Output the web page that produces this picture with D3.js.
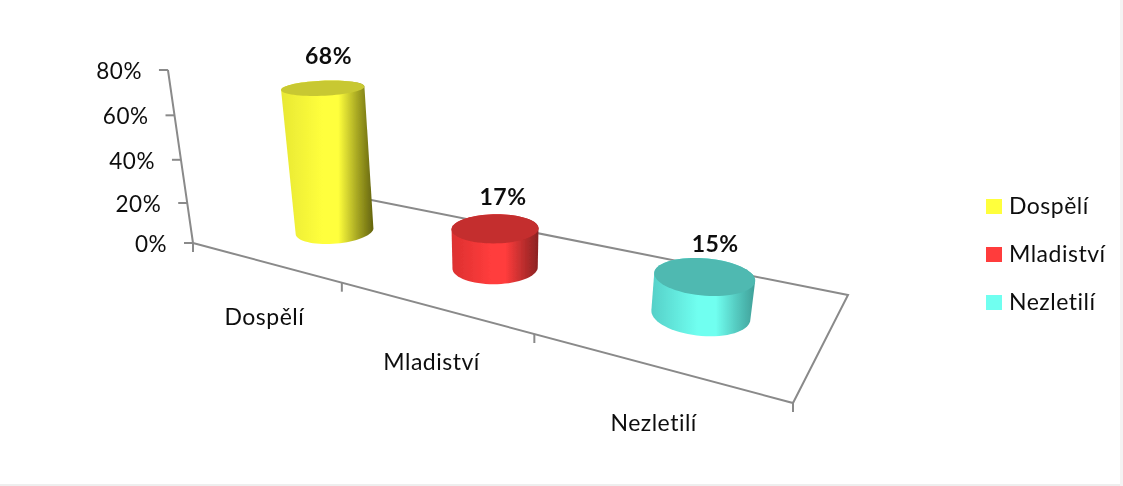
<!DOCTYPE html>
<html><head><meta charset="utf-8">
<script src="https://cdn.jsdelivr.net/npm/d3@7/dist/d3.min.js"></script>
<style>html,body{margin:0;background:#fff}svg{display:block}text{font-family:Lato,"Noto Sans",sans-serif;fill:#111}</style>
</head><body><svg id="c" width="1123" height="486"></svg>
<script>
const categories = ["Dospělí","Mladiství","Nezletilí"];
const values = [68,17,15];
const yTicks = [0,20,40,60,80];
const seriesColors = ["#ffff3c","#ff3c3c","#70fff0"];
const topColors = ["#c8c832","#c42e2e","#4fb9b1"];
const darkColors = ["#63630e","#8a2222","#3f9f98"];
const sideColors = ["#e8e834","#dc3030","#55d0c8"];

const svg = d3.select("#c");
const axisColor = "#8a8a8a";
const Q = [[193,243],[793,403],[848,295],[331,192]];
function homography(q){
  const [[x0,y0],[x1,y1],[x2,y2],[x3,y3]] = q;
  const dx1=x1-x2,dx2=x3-x2,sx=x0-x1+x2-x3,dy1=y1-y2,dy2=y3-y2,sy=y0-y1+y2-y3;
  const den=dx1*dy2-dx2*dy1;
  const g=(sx*dy2-dx2*sy)/den,h=(dx1*sy-sx*dy1)/den;
  const a=x1-x0+g*x1,b=x3-x0+h*x3,d=y1-y0+g*y1,e=y3-y0+h*y3;
  return (u,v)=>{const w=g*u+h*v+1;return {x:(a*u+b*v+x0)/w,y:(d*u+e*v+y0)/w,w};};
}
const H = homography(Q);
const xPos = d3.scalePoint().domain(categories).range([0.165,0.835]);
const yH = d3.scalePow().exponent(1.056).domain([0,80]).range([0,173]);
const yCyl = d3.scaleLinear().domain([0,80]).range([0,173]);
const w0 = H(0,0).w;
const vanishX = 500;

const defs = svg.append("defs");
const blur = defs.append("filter").attr("id","soft").attr("x","-5%").attr("y","-5%").attr("width","110%").attr("height","110%");
blur.append("feGaussianBlur").attr("stdDeviation",0.5);
defs.append("filter").attr("id","soft2").attr("filterUnits","userSpaceOnUse").attr("x",0).attr("y",0).attr("width",1123).attr("height",486)
  .append("feGaussianBlur").attr("stdDeviation",0.35);
categories.forEach((c,i)=>{
  const g = defs.append("linearGradient").attr("id","g"+i);
  [[0,sideColors[i]],[0.45,seriesColors[i]],[0.62,seriesColors[i]],[0.82,d3.interpolateRgb(seriesColors[i],darkColors[i])(0.55)],[1,darkColors[i]]]
    .forEach(([o,col])=>g.append("stop").attr("offset",o).attr("stop-color",col));
});

svg.append("rect").attr("x",0).attr("y",484).attr("width",1123).attr("height",2).attr("fill","#eeeeee");
svg.append("rect").attr("x",1120).attr("y",0).attr("width",3).attr("height",486).attr("fill","#f4f4f4");

const floor = svg.append("g").attr("fill","none").attr("stroke",axisColor).attr("stroke-width",2).attr("filter","url(#soft2)");
floor.append("path").attr("d",d3.line()(Q));
const O = H(0,0);
const axisPt = t => { const h=yH(t); return [O.x+(O.x-vanishX)*h/2120, O.y-h]; };
floor.append("path").attr("d",d3.line()(yTicks.map(axisPt)));
const labels = svg.append("g").attr("filter","url(#soft2)").attr("letter-spacing",0.5);
yTicks.forEach(t=>{
  const [x,y]=axisPt(t);
  floor.append("line").attr("x1",x-9).attr("x2",x).attr("y1",y).attr("y2",y);
  labels.append("text").attr("x",x-26).attr("y",y+9).attr("text-anchor","end").attr("font-size",22.5).text(t+"%");
});
const edge = [0,1,2,3].map(k=>H(k/3,0));
edge.forEach(p=>floor.append("line").attr("x1",p.x).attr("x2",p.x).attr("y1",p.y).attr("y2",p.y+9));
categories.forEach((c,i)=>{
  const a=edge[i],b=edge[i+1];
  labels.append("text").attr("x",(a.x+b.x)/2-3-3.5*i).attr("y",(a.y+b.y)/2+62).attr("text-anchor","middle").attr("font-size",23).text(c);
});

const cyl = svg.append("g").attr("filter","url(#soft)");
const N = 72;
const ru = 0.067, rv = 0.2, vc = 0.5;
categories.forEach((c,i)=>{
  const uc = xPos(c);
  const P = H(uc,vc);
  const scale = Math.pow(w0/P.w,0.75);
  const hpx = yCyl(values[i])*scale;
  const base = d3.range(N).map(k=>{const a=k/N*2*Math.PI;const p=H(uc+ru*Math.cos(a),vc+rv*Math.sin(a));return [p.x,p.y];});
  const s = 1+hpx/2000, flat = 1-hpx/350;
  const tx = P.x+(P.x-vanishX)*hpx/2000, ty = P.y-hpx;
  const top = base.map(([x,y])=>[tx+(x-P.x)*s, ty+(y-P.y)*flat]);
  const hull = d3.polygonHull(base.concat(top));
  cyl.append("path").attr("d","M"+hull.join("L")+"Z").attr("fill",`url(#g${i})`);
  cyl.append("path").attr("d","M"+top.join("L")+"Z").attr("fill",topColors[i]);
  labels.append("text").attr("x",tx+8+(tx-vanishX)*0.015).attr("y",ty-23.5).attr("text-anchor","middle").attr("font-size",23).attr("font-weight",700).text(values[i]+"%");
});

const ly = d3.scalePoint().domain(categories).range([206,302]);
categories.forEach((c,i)=>{
  svg.append("rect").attr("x",986).attr("y",ly(c)-7).attr("width",16).attr("height",15).attr("fill",seriesColors[i]);
  labels.append("text").attr("x",1009).attr("y",ly(c)+8).attr("font-size",23).text(c);
});
</script></body></html>
